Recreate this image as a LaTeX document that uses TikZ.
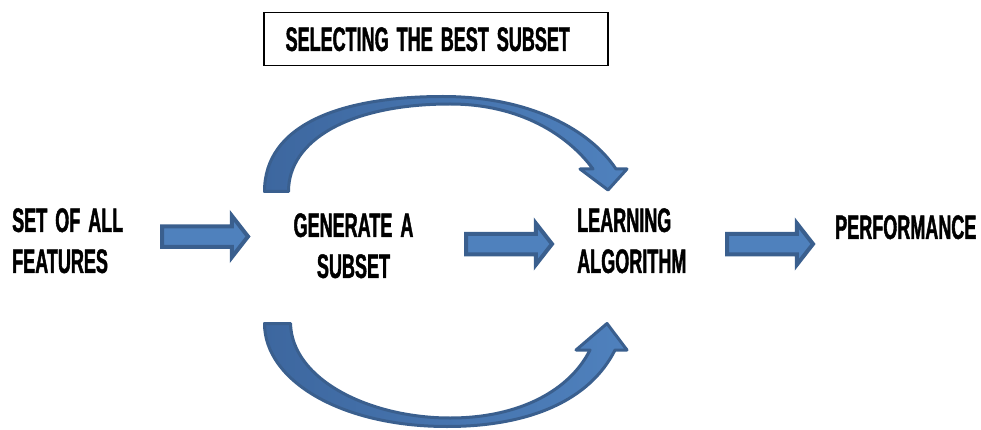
\documentclass[tikz,border=0pt]{standalone}
\usepackage{fontspec}
\setmainfont{Liberation Sans}[FakeStretch=0.53, FakeBold=1.2, WordSpace=1.6]
\usetikzlibrary{shapes.arrows}
\definecolor{arrowfill}{HTML}{4F81BD}
\definecolor{arrowdark}{HTML}{3D679F}
\definecolor{arrowline}{HTML}{3A5F8E}
\begin{document}
\begin{tikzpicture}[x=1pt,y=-1pt,
  label/.style={inner sep=0pt, font=\fontsize{34}{41}\selectfont\bfseries,
    execute at begin node={\spaceskip=8pt\relax}},
  blockarrow/.style={single arrow, draw=arrowline, fill=arrowfill, line width=4pt,
    inner xsep=0pt, inner ysep=8.25pt, minimum height=86pt,
    single arrow head extend=10.5pt, single arrow tip angle=104,
    anchor=tail, line join=miter},
  bentarrow/.style={draw=arrowline, line width=3pt, line join=round,
    left color=arrowdark, right color=arrowfill}]
\useasboundingbox (0,0) rectangle (981,430);

% title box
\node[draw, line width=1.5pt, anchor=north west, minimum width=344pt, minimum height=53pt,
      inner xsep=21pt, inner ysep=0pt,
      font=\fontsize{34}{41}\selectfont\bfseries] (title) at (263,12)
      {SELECTING THE BEST SUBSET\hspace*{16pt}};

% stage labels
\node[label, anchor=north west, align=left] (features) at (12,208) {SET OF ALL\\FEATURES};
\node[label, anchor=north, align=center] (generate) at (353.5,213) {GENERATE A\\SUBSET};
\node[label, anchor=north west, align=left] (learning) at (577,208) {LEARNING\\ALGORITHM};
\node[label, anchor=north west] (performance) at (835,215) {PERFORMANCE};

% straight block arrows between the stages
\node[blockarrow] (a1) at (160,236.5) {};
\node[blockarrow] (a2) at (464,244) {};
\node[blockarrow] (a3) at (725,244) {};

% upper curved arrow: subset to learner
\draw[bentarrow] (264.5,191.5)
  .. controls (264.5,125) and (340,96.5) .. (443,96.5)
  .. controls (530,96.5) and (590,130) .. (616,169)
  -- (627,169) -- (608,190) -- (580,169) -- (593,169)
  .. controls (568,135) and (520,104) .. (450,104)
  .. controls (350,104) and (288.5,140) .. (288.5,191.5) -- cycle;

% lower curved arrow: subset to learner
\draw[bentarrow] (264.5,323.5) -- (290.5,323.5)
  .. controls (292,380) and (370,418) .. (450,418)
  .. controls (520,418) and (570,390) .. (590,350)
  -- (576,350) -- (607,323.5) -- (627,350) -- (615,350)
  .. controls (590,400) and (530,426.5) .. (447,426.5)
  .. controls (340,426.5) and (264.5,380) .. (264.5,323.5) -- cycle;
\end{tikzpicture}
\end{document}
